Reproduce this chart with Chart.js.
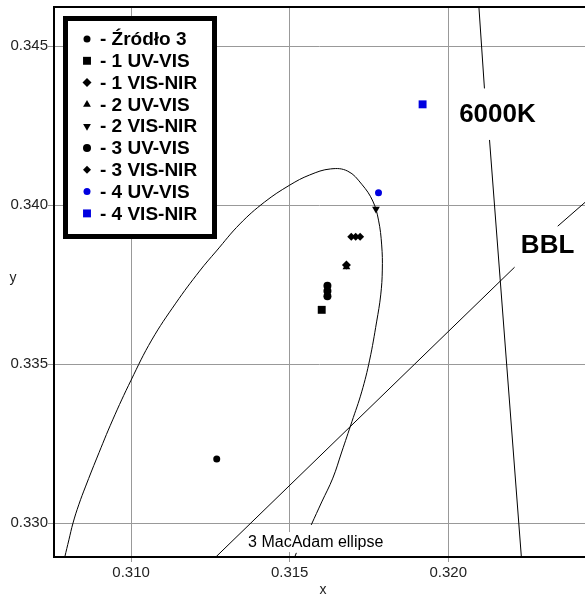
<!DOCTYPE html>
<html>
<head>
<meta charset="utf-8">
<script src="https://cdn.jsdelivr.net/npm/chart.js@4.4.1/dist/chart.umd.min.js"></script>
<style>
  html, body { margin: 0; padding: 0; background: #fff; }
  canvas { display: block; }
</style>
</head>
<body>
<canvas id="chart" width="585" height="596"></canvas>
<script>
// measured points (CIE x, y)
const zrodlo3 = [[0.31270, 0.33202]];
const uvvis1  = [[0.31601, 0.33671]];
const visnir1 = [[0.31679, 0.33812]];
const uvvis2  = [[0.31679, 0.33806]];
const visnir2 = [[0.31772, 0.33988]];
const uvvis3  = [[0.31619, 0.33747], [0.31619, 0.33730], [0.31619, 0.33714]];
const visnir3 = [[0.31694, 0.33901], [0.31708, 0.33901], [0.31722, 0.33901]];
const uvvis4  = [[0.31780, 0.34039]];
const visnir4 = [[0.31919, 0.34317]];

// reference curves (null = gap under a label)
const macAdam = [
  [0.30783, 0.32860], [0.30791, 0.32894], [0.30804, 0.32948], [0.30817, 0.33001],
  [0.30835, 0.33058], [0.30857, 0.33117], [0.30892, 0.33205], [0.30942, 0.33325],
  [0.31000, 0.33450], [0.31065, 0.33576], [0.31141, 0.33692], [0.31216, 0.33793],
  [0.31269, 0.33856], [0.31343, 0.33941], [0.31421, 0.34010], [0.31500, 0.34063],
  [0.31563, 0.34095], [0.31629, 0.34114], [0.31683, 0.34107], [0.31727, 0.34066],
  [0.31762, 0.34013], [0.31780, 0.33953], [0.31790, 0.33875], [0.31792, 0.33796],
  [0.31787, 0.33718], [0.31774, 0.33633], [0.31752, 0.33513], [0.31727, 0.33413],
  [0.31696, 0.33319], [0.31664, 0.33224], [0.31636, 0.33142], [0.31601, 0.33067],
  [0.31568, 0.32995],
  [0.3155, null],
  [0.31521, 0.32907], [0.31503, 0.32860]
];
const bbl = [
  [0.31232, 0.3286], [0.32209, 0.33805],
  [0.3228, null],
  [0.32345, 0.33934], [0.32460, 0.34034]
];
const iso6000 = [
  [0.32094, 0.3466], [0.32114, 0.34367],
  [0.3212, null],
  [0.32130, 0.34205], [0.32233, 0.3286]
];

const xTicks = [0.310, 0.315, 0.320];
const yTicks = [0.330, 0.335, 0.340, 0.345];

const fam = '"Liberation Sans", Arial, sans-serif';
const blue = '#0000e0';
const toPts = arr => arr.map(p => ({x: p[0], y: p[1]}));

const pointSeries = [
  {label: '- Źródło 3',  data: zrodlo3, style: 'circle',   r: 3.5, color: '#000'},
  {label: '- 1 UV-VIS',  data: uvvis1,  style: 'rect',     r: 5.6, color: '#000'},
  {label: '- 1 VIS-NIR', data: visnir1, style: 'rectRot',  r: 4.5, color: '#000'},
  {label: '- 2 UV-VIS',  data: uvvis2,  style: 'triangle', r: 4.5, color: '#000'},
  {label: '- 2 VIS-NIR', data: visnir2, style: 'triangle', r: 4.5, color: '#000', rot: 180},
  {label: '- 3 UV-VIS',  data: uvvis3,  style: 'circle',   r: 4,   color: '#000'},
  {label: '- 3 VIS-NIR', data: visnir3, style: 'rectRot',  r: 4,   color: '#000'},
  {label: '- 4 UV-VIS',  data: uvvis4,  style: 'circle',   r: 3.5, color: blue},
  {label: '- 4 VIS-NIR', data: visnir4, style: 'rect',     r: 5.6, color: blue}
];

const datasets = pointSeries.map((s, i) => ({
  label: s.label,
  data: toPts(s.data),
  pointStyle: s.style,
  pointRadius: s.r,
  pointRotation: s.rot || 0,
  pointBackgroundColor: s.color,
  pointBorderColor: s.color,
  pointBorderWidth: 0,
  showLine: false,
  order: i,
  inLegend: true
}));
[macAdam, bbl, iso6000].forEach((c, i) => {
  datasets.push({
    label: 'curve' + i,
    data: toPts(c),
    showLine: true,
    borderColor: '#000',
    borderWidth: 1,
    pointRadius: 0,
    tension: i === 0 ? 0.4 : 0,
    spanGaps: false,
    order: 20 + i
  });
});

const labels = [
  {text: '6000K', x: 0.32155, y: 0.34286, font: 'bold 26px ' + fam},
  {text: 'BBL', x: 0.32313, y: 0.33875, font: 'bold 26px ' + fam},
  {text: '3 MacAdam ellipse', x: 0.31582, y: 0.32941, font: '16px ' + fam}
];

const frame = {
  id: 'frame',
  beforeDatasetsDraw(chart) {
    const {ctx, chartArea: a} = chart;
    ctx.save();
    ctx.strokeStyle = '#000';
    ctx.lineWidth = 2;
    ctx.beginPath();
    ctx.moveTo(a.right, a.top);
    ctx.lineTo(a.left, a.top);
    ctx.lineTo(a.left, a.bottom);
    ctx.lineTo(a.right, a.bottom);
    ctx.stroke();
    ctx.restore();
  }
};

const extras = {
  id: 'extras',
  afterDatasetsDraw(chart) {
    const {ctx, scales} = chart;
    ctx.save();
    // text labels on the plot
    ctx.textAlign = 'center';
    ctx.textBaseline = 'middle';
    labels.forEach(l => {
      const px = scales.x.getPixelForValue(l.x);
      const py = scales.y.getPixelForValue(l.y);
      ctx.font = l.font;
      const w = ctx.measureText(l.text).width;
      ctx.fillStyle = '#fff';
      ctx.fillRect(px - w / 2 - 2, py - 10, w + 4, 20);
      ctx.fillStyle = '#000';
      ctx.fillText(l.text, px, py + 1);
    });

    // legend box
    ctx.fillStyle = '#fff';
    ctx.fillRect(65, 18, 150, 219);
    ctx.strokeStyle = '#000';
    ctx.lineWidth = 5;
    ctx.strokeRect(65.5, 18.5, 149, 218);
    ctx.font = 'bold 19px ' + fam;
    ctx.textAlign = 'left';
    const items = chart.data.datasets.filter(d => d.inLegend);
    items.forEach((d, i) => {
      const y = 39 + i * 21.8;
      ctx.fillStyle = d.pointBackgroundColor;
      ctx.strokeStyle = d.pointBorderColor;
      Chart.helpers.drawPoint(ctx, {
        pointStyle: d.pointStyle, radius: d.pointRadius,
        rotation: d.pointRotation, borderWidth: 0
      }, 87, y);
      ctx.fillStyle = '#000';
      ctx.fillText(d.label, 100, y + 1);
    });

    // axis titles
    ctx.font = '14px ' + fam;
    ctx.fillStyle = '#222';
    ctx.textAlign = 'center';
    ctx.fillText('x', 323, 590);
    ctx.fillText('y', 13, 278);
    ctx.restore();
  }
};

new Chart(document.getElementById('chart'), {
  type: 'scatter',
  data: {datasets},
  options: {
    responsive: false,
    animation: false,
    layout: {autoPadding: false, padding: {top: 7, right: 0, left: 0, bottom: 0}},
    plugins: {legend: {display: false}, tooltip: {enabled: false}},
    scales: {
      x: {
        type: 'linear', min: 0.30757, max: 0.32431,
        afterFit: s => { s.height = 39; s.paddingLeft = 0; s.paddingRight = 0; },
        afterBuildTicks: s => { s.ticks = xTicks.map(v => ({value: v})); },
        ticks: {callback: v => v.toFixed(3), color: '#222', font: {family: fam, size: 15},
                padding: 2, maxRotation: 0, autoSkip: false},
        grid: {color: '#999', lineWidth: 1, tickLength: 5},
        border: {display: false}
      },
      y: {
        type: 'linear', min: 0.32894, max: 0.34623,
        afterFit: s => { s.width = 54; s.paddingTop = 0; s.paddingBottom = 0; },
        afterBuildTicks: s => { s.ticks = yTicks.map(v => ({value: v})); },
        ticks: {callback: v => v.toFixed(3), color: '#222', font: {family: fam, size: 15},
                padding: 0, autoSkip: false},
        grid: {color: '#999', lineWidth: 1, tickLength: 6},
        border: {display: false}
      }
    }
  },
  plugins: [frame, extras]
});
</script>
</body>
</html>
